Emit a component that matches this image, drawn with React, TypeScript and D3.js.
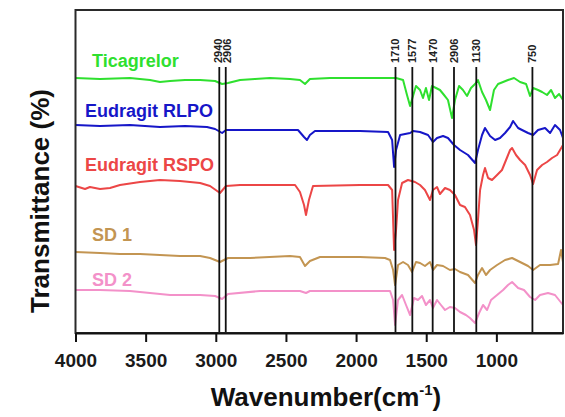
import React, { useRef, useEffect } from 'react';
import * as d3 from 'd3';

// wavenumber (cm-1), transmittance (a.u., stacked offsets as drawn)
const ticagrelor: [number, number][] = [
    [4000, 255], [3825, 254], [3612, 255], [3469, 253], [3398, 251], [3326, 252], [3219, 253],
    [3112, 253], [3005, 252], [2955, 249], [2913, 250], [2827, 253], [2721, 254], [2614, 255],
    [2471, 254], [2400, 253], [2364, 249], [2329, 254], [2186, 255], [1972, 255], [1715, 255],
    [1665, 253], [1637, 238], [1615, 227], [1594, 237], [1573, 247], [1544, 243], [1523, 235],
    [1502, 245], [1480, 233], [1459, 247], [1430, 245], [1402, 243], [1373, 238], [1345, 233],
    [1316, 215], [1295, 233], [1266, 247], [1238, 243], [1209, 237], [1181, 245], [1152, 249],
    [1131, 253], [1102, 241], [1074, 233], [1045, 223], [1017, 243], [988, 249], [952, 251],
    [917, 253], [874, 255], [831, 251], [788, 249], [760, 237], [738, 245], [703, 243],
    [674, 241], [639, 238], [610, 243], [582, 235], [553, 239], [525, 233],
];

const rlpo: [number, number][] = [
    [4000, 208], [3825, 207], [3612, 208], [3398, 206], [3219, 207], [3063, 206], [3005, 204],
    [2955, 200], [2927, 203], [2685, 203], [2414, 203], [2371, 196], [2350, 193], [2329, 198],
    [2293, 202], [1972, 202], [1772, 201], [1743, 193], [1729, 166], [1715, 183], [1686, 198],
    [1615, 200], [1594, 202], [1544, 201], [1487, 198], [1452, 191], [1423, 195], [1380, 197],
    [1345, 195], [1302, 188], [1259, 183], [1202, 178], [1152, 170], [1131, 183], [1102, 198],
    [1081, 205], [1045, 197], [1009, 193], [974, 195], [938, 200], [902, 206], [881, 212],
    [845, 205], [817, 203], [774, 200], [738, 198], [703, 203], [653, 205], [617, 200],
    [582, 208], [546, 203], [525, 195],
];

const rspo: [number, number][] = [
    [4000, 147], [3932, 144], [3897, 146], [3825, 144], [3754, 145], [3683, 148], [3540, 151],
    [3398, 153], [3255, 152], [3112, 150], [3041, 147], [2970, 140], [2927, 147], [2827, 148],
    [2435, 148], [2400, 141], [2371, 128], [2357, 118], [2336, 133], [2307, 147], [1972, 148],
    [1772, 148], [1743, 143], [1729, 83], [1715, 103], [1701, 133], [1672, 150], [1630, 153],
    [1580, 151], [1544, 148], [1509, 143], [1473, 133], [1452, 143], [1423, 146], [1402, 139],
    [1366, 145], [1331, 143], [1295, 138], [1259, 128], [1224, 126], [1188, 118], [1159, 103],
    [1145, 88], [1131, 113], [1116, 143], [1095, 158], [1081, 165], [1059, 155], [1031, 153],
    [995, 158], [960, 163], [931, 173], [902, 183], [888, 185], [860, 178], [831, 173],
    [795, 168], [760, 158], [738, 149], [710, 163], [674, 168], [639, 171], [603, 175],
    [567, 178], [546, 183], [525, 188],
];

const sd1: [number, number][] = [
    [4000, 81], [3825, 80], [3683, 79], [3540, 79], [3398, 78], [3255, 77], [3112, 77],
    [3041, 75], [2970, 71], [2913, 75], [2756, 75], [2471, 77], [2400, 76], [2364, 67],
    [2329, 72], [2257, 76], [1972, 76], [1794, 75], [1758, 73], [1736, 63], [1722, 48],
    [1701, 68], [1665, 71], [1630, 68], [1601, 61], [1573, 71], [1544, 70], [1509, 67],
    [1473, 71], [1452, 63], [1423, 68], [1380, 67], [1331, 63], [1295, 64], [1259, 61],
    [1202, 58], [1152, 50], [1131, 58], [1102, 65], [1074, 58], [1045, 63], [995, 68],
    [938, 73], [888, 75], [831, 71], [774, 67], [738, 63], [689, 68], [617, 68], [560, 69],
    [539, 83], [525, 71],
];

const sd2: [number, number][] = [
    [4000, 43], [3825, 43], [3612, 42], [3469, 40], [3326, 38], [3112, 38], [3005, 37],
    [2955, 34], [2913, 39], [2685, 42], [2400, 42], [2357, 40], [2329, 42], [1758, 42],
    [1736, 33], [1722, 8], [1701, 33], [1672, 38], [1644, 28], [1615, 18], [1587, 35],
    [1559, 33], [1530, 37], [1502, 28], [1473, 33], [1452, 25], [1423, 33], [1395, 28],
    [1366, 23], [1331, 26], [1295, 25], [1259, 21], [1217, 18], [1188, 15], [1152, 10],
    [1123, 20], [1095, 28], [1066, 23], [1038, 33], [995, 38], [952, 43], [917, 48],
    [888, 51], [845, 45], [803, 43], [760, 36], [724, 33], [689, 38], [632, 40], [582, 38],
    [525, 28],
];

const seriesNames = ['Ticagrelor', 'Eudragit RLPO', 'Eudragit RSPO', 'SD 1', 'SD 2'];
const seriesData = [ticagrelor, rlpo, rspo, sd1, sd2];
const seriesColors = ['#2fe02f', '#1616c8', '#ec4646', '#c39552', '#f391c9'];

// peak markers: position on the spectrum and the label written above it
const markerPositions = [2975, 2929, 1719, 1599, 1454, 1302, 1143, 743];
const markerLabels = ['2940', '2906', '1710', '1577', '1470', '2906', '1130', '750'];

const xTicks = [4000, 3500, 3000, 2500, 2000, 1500, 1000];

export default function App() {
    const svgRef = useRef<SVGSVGElement | null>(null);

    useEffect(() => {
        if (!svgRef.current) return;
        const svg = d3.select(svgRef.current);
        svg.selectAll('*').remove();

        const W = 565, H = 417;
        const left = 75.5, right = 563, top = 10, bottom = 333;

        const x = d3.scaleLinear().domain([4000, 525]).range([left, right]);
        const y = d3.scaleLinear().domain([0, 323]).range([bottom, top]);

        svg.attr('width', W).attr('height', H);
        svg.append('rect').attr('width', W).attr('height', H).attr('fill', '#fff');

        // spectra
        const line = d3.line<[number, number]>()
            .x(d => x(d[0]))
            .y(d => y(d[1]));

        svg.selectAll('.spec')
            .data(seriesData)
            .join('path')
            .attr('class', 'spec')
            .attr('d', d => line(d))
            .attr('fill', 'none')
            .attr('stroke', (d, i) => seriesColors[i])
            .attr('stroke-width', 2)
            .attr('stroke-linejoin', 'round');

        // marker lines + rotated labels
        svg.selectAll('.marker')
            .data(markerPositions)
            .join('line')
            .attr('class', 'marker')
            .attr('x1', d => x(d)).attr('x2', d => x(d))
            .attr('y1', 67).attr('y2', bottom)
            .attr('stroke', '#111')
            .attr('stroke-width', 1.8);

        // the two close labels near 2900 are nudged apart so they do not overlap
        const labelNudge = [-1.6, 1.6, 0, 0, 0, 0, 0, 0];
        svg.selectAll('.mlabel')
            .data(markerPositions)
            .join('text')
            .attr('class', 'mlabel')
            .attr('transform', (d, i) => `translate(${x(d) + labelNudge[i]},63) rotate(-90)`)
            .attr('dy', '0.35em')
            .attr('text-anchor', 'start')
            .style('font-family', 'Liberation Sans, Arial, sans-serif')
            .style('font-size', '11px')
            .style('font-weight', 'bold')
            .style('fill', '#222')
            .text((d, i) => markerLabels[i]);

        // series labels
        const labelX = [92, 85, 85, 92, 92];
        const labelDy = [-11, -8, -15, -11, -4];
        svg.selectAll('.slabel')
            .data(seriesNames)
            .join('text')
            .attr('class', 'slabel')
            .attr('x', (d, i) => labelX[i])
            .attr('y', (d, i) => y(seriesData[i][0][1]) + labelDy[i])
            .style('font-family', 'Liberation Sans, Arial, sans-serif')
            .style('font-size', '18px')
            .style('font-weight', 'bold')
            .style('fill', (d, i) => seriesColors[i])
            .text(d => d);

        // frame
        svg.append('rect')
            .attr('x', left).attr('y', top)
            .attr('width', right - left).attr('height', bottom - top)
            .attr('fill', 'none')
            .attr('stroke', '#2a2a2a')
            .attr('stroke-width', 2);

        // x axis
        const xAxis = svg.append('g')
            .attr('transform', `translate(0,${bottom})`)
            .call(d3.axisBottom(x).tickValues(xTicks).tickFormat(d3.format('d')).tickSize(9).tickSizeOuter(0).tickPadding(12));
        xAxis.select('.domain').attr('stroke', '#111').attr('stroke-width', 2);
        xAxis.selectAll('.tick line').attr('stroke', '#111').attr('stroke-width', 2);
        xAxis.selectAll('.tick text')
            .style('font-family', 'Liberation Sans, Arial, sans-serif')
            .style('font-size', '19px')
            .style('font-weight', 'bold')
            .style('fill', '#1a1a1a');

        // axis titles
        const xTitle = svg.append('text')
            .attr('x', 326).attr('y', 406)
            .attr('text-anchor', 'middle')
            .style('font-family', 'Liberation Sans, Arial, sans-serif')
            .style('font-size', '26px')
            .style('font-weight', 'bold')
            .style('fill', '#111');
        xTitle.append('tspan').text('Wavenumber(cm');
        xTitle.append('tspan').attr('dy', -11).style('font-size', '15px').text('-1');
        xTitle.append('tspan').attr('dy', 11).text(')');

        svg.append('text')
            .attr('transform', 'translate(49,201) rotate(-90)')
            .attr('text-anchor', 'middle')
            .style('font-family', 'Liberation Sans, Arial, sans-serif')
            .style('font-size', '26px')
            .style('font-weight', 'bold')
            .style('fill', '#111')
            .text('Transmittance (%)');
    }, []);

    return (
        <div style={{ position: 'absolute', left: 0, top: 0 }}>
            <svg ref={svgRef} style={{ display: 'block' }}></svg>
        </div>
    );
}
